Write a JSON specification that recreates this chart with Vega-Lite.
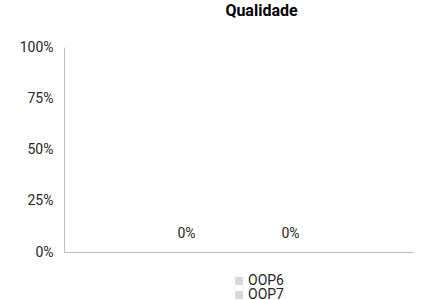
{
  "$schema": "https://vega.github.io/schema/vega-lite/v6.json",
  "autosize": "none",
  "width": 349,
  "height": 205,
  "padding": {"left": 64, "top": 47, "right": 9, "bottom": 48},
  "background": "white",
  "config": {
    "view": {"stroke": null},
    "font": "Roboto"
  },
  "title": {
    "text": "Qualidade",
    "anchor": "middle",
    "frame": "group",
    "dx": 23,
    "offset": 21,
    "fontSize": 16,
    "fontWeight": "bold",
    "font": "Roboto",
    "color": "#000000"
  },
  "data": {
    "values": [
      {"serie": "OOP6", "valor": 0},
      {"serie": "OOP7", "valor": 0}
    ]
  },
  "encoding": {
    "x": {
      "field": "serie",
      "type": "nominal",
      "scale": {"paddingInner": 0.3, "paddingOuter": 0.828},
      "axis": {
        "title": null,
        "labels": false,
        "ticks": false,
        "domainColor": "#bfbfbf",
        "domainWidth": 1
      }
    },
    "y": {
      "field": "valor",
      "type": "quantitative",
      "scale": {"domain": [0, 1]},
      "axis": {
        "title": null,
        "values": [0, 0.25, 0.5, 0.75, 1],
        "format": ".0%",
        "grid": false,
        "ticks": false,
        "labelPadding": 11,
        "labelFontSize": 14,
        "labelColor": "#262626",
        "labelFont": "Roboto",
        "domainColor": "#bfbfbf",
        "domainWidth": 1
      }
    }
  },
  "layer": [
    {
      "mark": {"type": "bar"},
      "encoding": {
        "color": {
          "field": "serie",
          "type": "nominal",
          "scale": {"range": ["#d9d9d9", "#d9d9d9"]},
          "legend": {
            "title": null,
            "orient": "none",
            "legendX": 168,
            "legendY": 227,
            "direction": "vertical",
            "symbolType": "square",
            "symbolSize": 64,
            "symbolStrokeWidth": 0,
            "labelFontSize": 14,
            "labelColor": "#262626",
            "labelFont": "Roboto",
            "labelOffset": 2,
            "rowPadding": -5
          }
        }
      }
    },
    {
      "mark": {
        "type": "text",
        "baseline": "middle",
        "dy": -18,
        "fontSize": 14,
        "color": "#262626",
        "font": "Roboto"
      },
      "encoding": {
        "text": {"field": "valor", "type": "quantitative", "format": ".0%"}
      }
    }
  ]
}
